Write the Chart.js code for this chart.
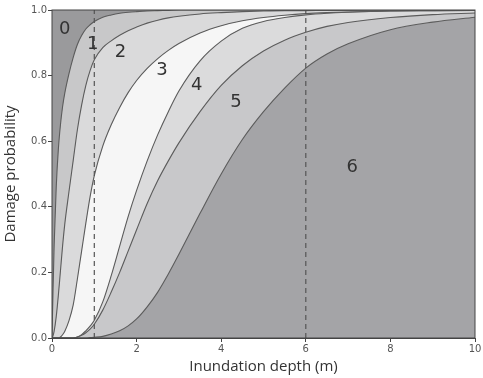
<!DOCTYPE html>
<html>
<head>
<meta charset="utf-8">
<script src="https://cdn.jsdelivr.net/npm/chart.js@4.4.1/dist/chart.umd.min.js"></script>
<style>
  html, body { margin: 0; padding: 0; background: #fff; }
  #wrap { width: 483px; height: 378px; }
</style>
</head>
<body>
<div id="wrap"><canvas id="chart"></canvas></div>
<script>
// --- Datos ---
const depth = [0, 0.02, 0.05, 0.1, 0.15, 0.2, 0.25, 0.3, 0.4, 0.5, 0.6, 0.7, 0.8, 0.9, 1.0,
               1.2, 1.4, 1.6, 1.8, 2.0, 2.25, 2.5, 2.75, 3.0, 3.5, 4.0, 4.5, 5.0, 5.5, 6.0,
               6.5, 7.0, 8.0, 9.0, 10.0];

// curvas de fragilidad (límite entre estados de daño)
const curve01 = [0, 0.12, 0.28, 0.46, 0.575, 0.65, 0.705, 0.745, 0.805, 0.855, 0.895, 0.922, 0.942, 0.955, 0.965,
                 0.978, 0.985, 0.99, 0.993, 0.995, 0.997, 0.998, 0.999, 1, 1, 1, 1, 1, 1, 1,
                 1, 1, 1, 1, 1];
const curve12 = [0, 0.005, 0.02, 0.065, 0.13, 0.205, 0.28, 0.345, 0.445, 0.54, 0.635, 0.71, 0.77, 0.815, 0.848,
                 0.885, 0.906, 0.923, 0.937, 0.948, 0.96, 0.969, 0.976, 0.981, 0.988, 0.992, 0.995, 0.997, 0.998, 0.998,
                 0.999, 0.999, 1, 1, 1];
const curve23 = [0, 0, 0, 0, 0, 0.003, 0.01, 0.02, 0.052, 0.1, 0.18, 0.265, 0.35, 0.43, 0.495,
                 0.585, 0.65, 0.703, 0.748, 0.785, 0.822, 0.852, 0.877, 0.898, 0.93, 0.952, 0.967, 0.977, 0.984, 0.989,
                 0.992, 0.994, 0.997, 0.998, 0.999];
const curve34 = [0, 0, 0, 0, 0, 0, 0, 0, 0, 0, 0.003, 0.01, 0.022, 0.036, 0.054,
                 0.11, 0.19, 0.28, 0.37, 0.45, 0.54, 0.62, 0.69, 0.753, 0.845, 0.905, 0.944, 0.965, 0.977, 0.985,
                 0.99, 0.993, 0.997, 0.998, 0.999];
const curve45 = [0, 0, 0, 0, 0, 0, 0, 0, 0, 0, 0.003, 0.008, 0.016, 0.027, 0.042,
                 0.085, 0.14, 0.2, 0.265, 0.33, 0.41, 0.48, 0.54, 0.595, 0.69, 0.77, 0.83, 0.875, 0.908, 0.932,
                 0.95, 0.962, 0.977, 0.986, 0.991];
const curve56 = [0, 0, 0, 0, 0, 0, 0, 0, 0, 0, 0, 0, 0, 0.001, 0.002,
                 0.005, 0.012, 0.022, 0.037, 0.058, 0.095, 0.14, 0.195, 0.255, 0.38, 0.5, 0.605, 0.69, 0.762, 0.823,
                 0.866, 0.897, 0.94, 0.963, 0.978];

const curves = [curve01, curve12, curve23, curve34, curve45, curve56];

// líneas verticales discontinuas
const dashedDepths = [1, 6];

// etiquetas de estado de daño
const stateLabels = ["0", "1", "2", "3", "4", "5", "6"];
const stateLabelPos = [[0.3, 0.94], [0.96, 0.895], [1.62, 0.87], [2.6, 0.815],
                       [3.42, 0.77], [4.35, 0.72], [7.1, 0.52]];

// --- Estilos ---
const regionColors = ["#9a9a9c", "#c8c8c9", "#dadadb", "#f6f6f6", "#dbdbdc", "#c8c8ca", "#a4a4a7"];
const lineColor = "#5c5c5c";

// --- Datasets ---
const datasets = curves.map((c, i) => ({
    data: depth.map((x, j) => ({ x: x, y: c[j] })),
    borderColor: lineColor,
    borderWidth: 1.1,
    pointRadius: 0,
    cubicInterpolationMode: "monotone",
    fill: i === 0 ? "end" : "-1",
    backgroundColor: regionColors[i]
}));

dashedDepths.forEach(d => {
    datasets.push({
        data: [{ x: d, y: 0 }, { x: d, y: 1 }],
        borderColor: "#555",
        borderWidth: 1.2,
        borderDash: [5, 4],
        pointRadius: 0,
        fill: false,
        order: -1
    });
});

const fondoPlugin = {
    id: "fondo",
    beforeDraw(chart) {
        const a = chart.chartArea, ctx = chart.ctx;
        ctx.save();
        ctx.fillStyle = regionColors[6];
        ctx.fillRect(a.left, a.top, a.right - a.left, a.bottom - a.top);
        ctx.restore();
    }
};

const etiquetasPlugin = {
    id: "etiquetas",
    afterDraw(chart) {
        const ctx = chart.ctx, xs = chart.scales.x, ys = chart.scales.y, a = chart.chartArea;
        ctx.save();
        ctx.font = "18px 'DejaVu Sans'";
        ctx.fillStyle = "#333";
        ctx.textAlign = "center";
        ctx.textBaseline = "middle";
        stateLabels.forEach((t, i) => {
            const p = stateLabelPos[i];
            ctx.fillText(t, xs.getPixelForValue(p[0]), ys.getPixelForValue(p[1]));
        });
        ctx.strokeStyle = "#444";
        ctx.lineWidth = 1;
        ctx.strokeRect(a.left, a.top, a.right - a.left, a.bottom - a.top);
        ctx.restore();
    }
};

new Chart(document.getElementById("chart"), {
    type: "line",
    data: { datasets },
    plugins: [fondoPlugin, etiquetasPlugin],
    options: {
        responsive: true,
        maintainAspectRatio: false,
        animation: false,
        layout: { padding: { top: 10, right: 8, left: 0, bottom: 0 } },
        plugins: {
            legend: { display: false },
            tooltip: { enabled: false },
            filler: { drawTime: "beforeDatasetsDraw" }
        },
        scales: {
            x: {
                type: "linear",
                min: 0, max: 10,
                ticks: { stepSize: 2, color: "#555", font: { family: "DejaVu Sans", size: 10 }, padding: 1, maxRotation: 0 },
                grid: { drawOnChartArea: false, tickLength: 4, color: "#444" },
                border: { color: "#444" },
                title: { display: true, text: "Inundation depth (m)", color: "#333",
                         font: { family: "Open Sans", size: 15 }, padding: { top: 0, bottom: 2 } },
                afterFit(scale) { scale.height = 40; }
            },
            y: {
                min: 0, max: 1,
                ticks: { stepSize: 0.2, color: "#555", font: { family: "DejaVu Sans", size: 10 }, padding: 1,
                         callback: v => v.toFixed(1) },
                grid: { drawOnChartArea: false, tickLength: 4, color: "#444" },
                border: { color: "#444" },
                title: { display: true, text: "Damage probability", color: "#333",
                         font: { family: "Open Sans", size: 15 }, padding: { top: 2, bottom: 4 } },
                afterFit(scale) { scale.width = 52; }
            }
        }
    }
});
</script>
</body>
</html>
